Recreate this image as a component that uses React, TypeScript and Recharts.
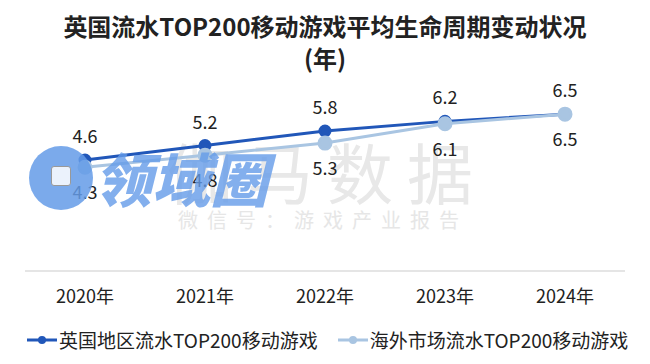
import React from 'react';
import { LineChart, Line, XAxis, YAxis, LabelList } from 'recharts';

// Kategorien und Werte
const years = ['2020年', '2021年', '2022年', '2023年', '2024年'];
const ukValues = [4.6, 5.2, 5.8, 6.2, 6.5];
const overseasValues = [4.3, 4.8, 5.3, 6.1, 6.5];
const seriesNames = ['英国地区流水TOP200移动游戏', '海外市场流水TOP200移动游戏'];

const DARK = '#2157b9';
const LIGHT = '#a9c5e2';
const FONT = '"Noto Sans CJK SC", "Noto Sans", sans-serif';

const data = years.map((y, i) => ({ year: y, uk: ukValues[i], overseas: overseasValues[i] }));

// kleines Legendensymbol: Linie mit Punkt
const LegendIcon: React.FC<{ color: string }> = ({ color }) => (
  <svg width={30} height={12} style={{ marginRight: 2 }}>
    <line x1={0} y1={6} x2={30} y2={6} stroke={color} strokeWidth={3} />
    <circle cx={15} cy={6} r={4} fill={color} />
  </svg>
);

const App: React.FC = () => {
  return (
    <div style={{ position: 'absolute', left: 0, top: 0, width: 650, height: 364, background: '#fff', fontFamily: FONT }}>
      <div style={{ position: 'absolute', top: 10, width: 650, textAlign: 'center', fontSize: 24, fontWeight: 700, color: '#222', lineHeight: '32px' }}>
        英国流水TOP200移动游戏平均生命周期变动状况
        <br />
        (年)
      </div>

      {/* Wasserzeichen im Hintergrund */}
      <div style={{ position: 'absolute', left: 167, top: 125, fontSize: 66, color: '#e8e8e8', letterSpacing: 14, lineHeight: '90px', whiteSpace: 'nowrap' }}>伽马数据</div>
      <div style={{ position: 'absolute', left: 178, top: 205, fontSize: 20, color: '#e6e6e6', letterSpacing: 9, lineHeight: '30px', whiteSpace: 'nowrap' }}>微信号：游戏产业报告</div>

      <LineChart width={650} height={364} data={data} margin={{ top: 90, right: 25, bottom: 63, left: 25 }}>
        <XAxis
          dataKey="year"
          height={30}
          padding={{ left: 60, right: 60 }}
          tickLine={false}
          axisLine={{ stroke: '#dcdcdc', strokeWidth: 1.5 }}
          tick={{ fill: '#222', fontSize: 18, fontFamily: FONT }}
          tickMargin={13}
        />
        <YAxis hide domain={[0, 7.5]} />
        <Line
          dataKey="uk"
          stroke={DARK}
          strokeWidth={3}
          dot={{ r: 5, fill: DARK, stroke: DARK }}
          isAnimationActive={false}
        >
          <LabelList dataKey="uk" position="top" offset={17} fill="#222" fontSize={18} fontFamily={FONT} />
        </Line>
        <Line
          dataKey="overseas"
          stroke={LIGHT}
          strokeWidth={3}
          dot={{ r: 6, fill: LIGHT, stroke: LIGHT }}
          isAnimationActive={false}
        >
          <LabelList dataKey="overseas" position="bottom" offset={19} fill="#222" fontSize={18} fontFamily={FONT} />
        </Line>
      </LineChart>

      {/* Logo-Overlay */}
      <div style={{ position: 'absolute', left: 29, top: 146, width: 64, height: 64, borderRadius: 32, background: 'rgba(100,155,232,0.85)' }}>
        <div style={{ position: 'absolute', left: 22, top: 20, width: 18, height: 18, border: '1.5px solid #999', borderRadius: 3, background: 'rgba(255,255,255,0.85)' }} />
      </div>
      <div style={{ position: 'absolute', left: 94, top: 142, fontSize: 58, fontWeight: 900, fontStyle: 'italic', color: 'rgba(100,155,232,0.8)', lineHeight: '70px', whiteSpace: 'nowrap' }}>领域圈</div>

      <div style={{ position: 'absolute', top: 326, left: 27, display: 'flex', alignItems: 'center', fontSize: 19, color: '#222', whiteSpace: 'nowrap' }}>
        <LegendIcon color={DARK} />
        <span>{seriesNames[0]}</span>
        <span style={{ width: 20 }} />
        <LegendIcon color={LIGHT} />
        <span>{seriesNames[1]}</span>
      </div>
    </div>
  );
};

export default App;
